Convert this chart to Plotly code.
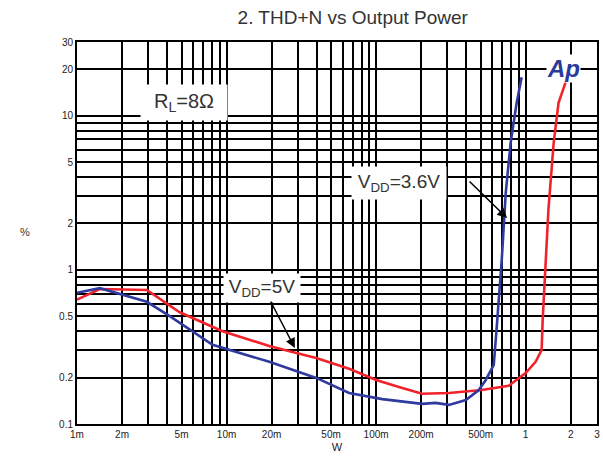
import plotly.graph_objects as go

# ---------------- data ----------------
red_power_w = [0.001, 0.00142, 0.00293, 0.00486, 0.0094, 0.0193, 0.0293, 0.0398, 0.066,
               0.100, 0.142, 0.203, 0.307, 0.509, 0.770, 1.00, 1.166, 1.279, 1.30, 1.34,
               1.42, 1.54, 1.66, 1.85]
red_thd_pct = [0.64, 0.75, 0.74, 0.53, 0.40, 0.32, 0.289, 0.268, 0.228,
               0.193, 0.174, 0.157, 0.159, 0.166, 0.177, 0.214, 0.253, 0.302, 0.474, 0.90,
               2.45, 6.68, 12.1, 16.4]

blue_power_w = [0.001, 0.00142, 0.00293, 0.00417, 0.00806, 0.0094, 0.0193, 0.0398, 0.066,
                0.110, 0.160, 0.203, 0.250, 0.307, 0.398, 0.486, 0.541, 0.612, 0.641, 0.692,
                0.736, 0.794, 0.871, 0.940]
blue_thd_pct = [0.71, 0.76, 0.62, 0.50, 0.326, 0.312, 0.253, 0.199, 0.159,
                0.145, 0.138, 0.135, 0.137, 0.133, 0.143, 0.166, 0.193, 0.242, 0.427, 1.16,
                3.16, 6.68, 12.1, 17.7]

x_tick_vals = [0.001, 0.002, 0.005, 0.01, 0.02, 0.05, 0.1, 0.2, 0.5, 1, 2, 3]
x_tick_text = ["1m", "2m", "5m", "10m", "20m", "50m", "100m", "200m", "500m", "1", "2", "3"]
y_tick_vals = [0.1, 0.2, 0.5, 1, 2, 5, 10, 20, 30]
y_tick_text = ["0.1", "0.2", "0.5", "1", "2", "5", "10", "20", "30"]

# ---------------- grid positions (log minor grid) ----------------
def log_grid(lo_exp, hi_exp, vmax):
    vals = []
    for e in range(lo_exp, hi_exp + 1):
        for m in range(1, 10):
            v = round(m * 10 ** e, 10)
            if v <= vmax + 1e-12:
                vals.append(v)
    return vals

x_grid = log_grid(-3, 0, 3)
y_grid = log_grid(-1, 1, 30)

def labels_for(grid, vals, texts):
    out = []
    for g in grid:
        lab = ""
        for v, t in zip(vals, texts):
            if abs(g - v) < 1e-9 * max(1, v):
                lab = t
        out.append(lab)
    return out

x_grid_text = labels_for(x_grid, x_tick_vals, x_tick_text)
y_grid_text = labels_for(y_grid, y_tick_vals, y_tick_text)

RED = "#f2222b"
BLUE = "#2e3a9e"

fig = go.Figure()
fig.add_trace(go.Scatter(x=red_power_w, y=red_thd_pct, mode="lines",
                         line=dict(color=RED, width=2.6), name="VDD=5V"))
fig.add_trace(go.Scatter(x=blue_power_w, y=blue_thd_pct, mode="lines",
                         line=dict(color=BLUE, width=2.6), name="VDD=3.6V"))

tick_font = dict(family="Liberation Sans, Arial, sans-serif", size=10, color="#222222")

fig.update_layout(
    width=603, height=459,
    margin=dict(l=77, r=6, t=42, b=35),
    paper_bgcolor="white", plot_bgcolor="white",
    showlegend=False,
    title=dict(text="2. THD+N vs Output Power", x=0.585, xanchor="center", y=0.963, yanchor="middle",
               font=dict(family="Liberation Sans, Arial, sans-serif", size=19, color="#333333")),
    xaxis=dict(type="log", range=[-3, 0.47712], tickvals=x_grid, ticktext=x_grid_text,
               showgrid=True, gridcolor="black", gridwidth=1.8, zeroline=False,
               showline=True, linecolor="black", linewidth=2, mirror=True,
               ticks="", tickfont=tick_font, automargin=False,
               title=dict(text="W", font=dict(family="Liberation Sans, Arial, sans-serif", size=11, color="#222222"),
                          standoff=4)),
    yaxis=dict(type="log", range=[-1, 1.47712], tickvals=y_grid, ticktext=y_grid_text,
               showgrid=True, gridcolor="black", gridwidth=1.8, zeroline=False,
               showline=True, linecolor="black", linewidth=2, mirror=True,
               ticks="", tickfont=tick_font, automargin=False),
)

ann_font = dict(family="Liberation Sans, Arial, sans-serif", color="#333333")
annotations = [
    dict(xref="paper", yref="paper", x=0.121, y=0.89, text="R<sub>L</sub>=8Ω", showarrow=False,
         font=dict(size=20, **ann_font), bgcolor="white", width=84, height=33),
    dict(xref="paper", yref="paper", x=0.356, y=0.356, text="V<sub>DD</sub>=5V", showarrow=False,
         font=dict(size=19, **ann_font), bgcolor="white", width=74, height=26),
    dict(xref="paper", yref="paper", x=0.712, y=0.675, text="V<sub>DD</sub>=3.6V", showarrow=False,
         font=dict(size=19, **ann_font), bgcolor="white", width=92, height=30),
    dict(xref="paper", yref="paper", x=0.419, y=0.199, text="", showarrow=True,
         ax=-25, ay=-48, arrowhead=2, arrowsize=1.3, arrowwidth=1.5, arrowcolor="black"),
    dict(xref="paper", yref="paper", x=0.827, y=0.539, text="", showarrow=True,
         ax=-39, ay=-38, arrowhead=2, arrowsize=1.3, arrowwidth=1.5, arrowcolor="black"),
    dict(xref="paper", yref="paper", x=0.969, y=0.969, text="<b><i>Ap</i></b>", showarrow=False,
         font=dict(family="Liberation Sans, Arial, sans-serif", size=24, color="#2a3a9a"),
         bgcolor="white", borderpad=0),
    dict(xref="paper", yref="paper", x=-0.113, y=0.503, text="%", showarrow=False,
         font=dict(size=11, **ann_font)),
]
fig.update_layout(annotations=annotations)

fig.write_html("out.html",
               config={"displayModeBar": False},
               post_script="document.body.style.margin='0';document.body.style.padding='0';")
